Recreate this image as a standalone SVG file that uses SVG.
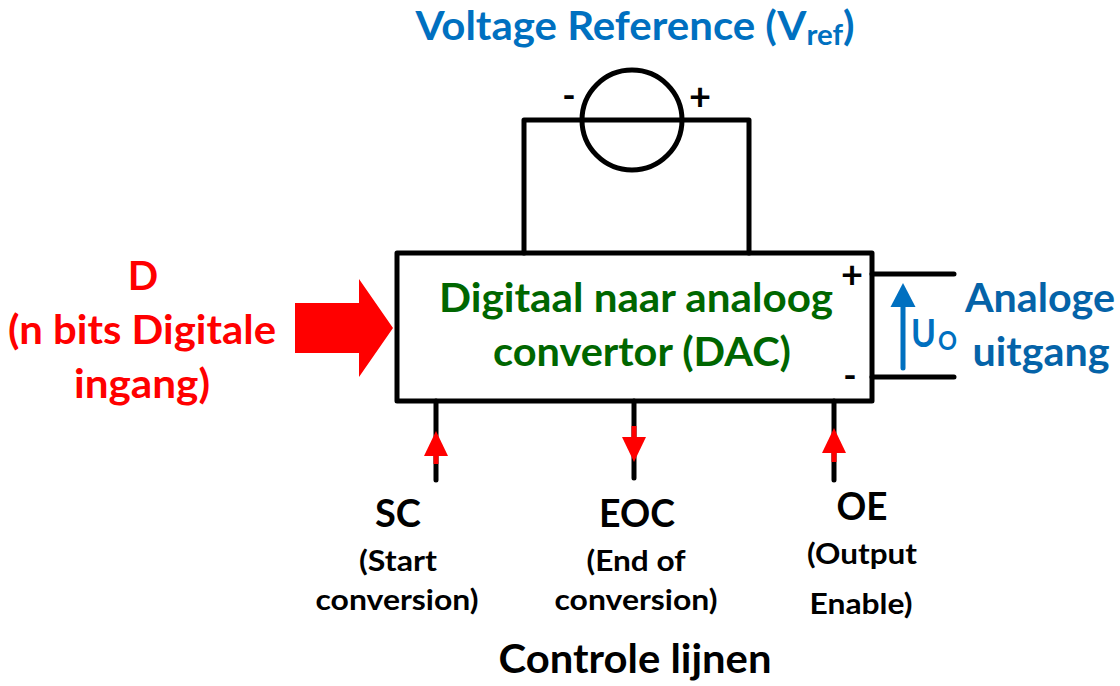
<svg xmlns="http://www.w3.org/2000/svg" width="1120" height="686" viewBox="0 0 1120 686">
<style>
text{font-family:"Lato","Open Sans","Liberation Sans",sans-serif;font-weight:700;text-anchor:middle;fill:#000}
.w{fill:none;stroke:#000;stroke-width:5;stroke-linecap:round;stroke-linejoin:round}
.r{fill:#f00}
.rl{stroke:#f00;stroke-width:5;fill:none}
.b{fill:#0070c0}
.t{font-size:40px;fill:#0070c0}
.d{font-size:40px;fill:#f00}
.g{font-size:40px;fill:#006600}
.a{font-size:40px;fill:#0563a8}
.h{font-size:39px}
.s{font-size:29px}
.u{font-weight:700;fill:#0070c0;text-anchor:start}
.p{font-size:38px}
.m{font-size:36px}
</style>
<rect width="1120" height="686" fill="#fff"/>
<g id="connectors">
<path class="w" d="M524 253V120H749V253"/>
<path class="w" d="M872 274H954M872 377H954"/>
<path class="w" d="M436 401V480M634 401V478M834 401V480"/>
<path class="rl" d="M436 445V464M634 426V445M834 442V462"/>
<polygon class="r" points="436,431 448,456 424,456"/>
<polygon class="r" points="634,462 622,437 646,437"/>
<polygon class="r" points="834,428 846,453 822,453"/>
<polygon class="r" points="295,303 359,303 359,279 393,328 359,377 359,353 295,353"/>
<path d="M903 368V300" fill="none" stroke="#0070c0" stroke-width="5" stroke-linecap="round"/>
<polygon class="b" points="903,283 915.500,307 890.500,307"/>
</g>
<g id="voltage-source">
<circle cx="632" cy="120" r="50" fill="none" stroke="#000" stroke-width="5"/>
<text class="m" x="569" y="108">-</text>
<text class="p" x="700" y="110">+</text>
</g>
<g id="vref-label"><text class="t" x="635" y="40" textLength="439" lengthAdjust="spacingAndGlyphs">Voltage Reference (V<tspan font-size="28" dy="5">ref</tspan><tspan dy="-5">)</tspan></text></g>
<g id="dac">
<rect x="397" y="253" width="475" height="148" fill="none" stroke="#000" stroke-width="5" stroke-linejoin="round"/>
<text class="g" x="636" y="312" textLength="394" lengthAdjust="spacingAndGlyphs">Digitaal naar analoog</text>
<text class="g" x="642" y="366" textLength="298" lengthAdjust="spacingAndGlyphs">convertor (DAC)</text>
<text class="p" x="852" y="288">+</text>
<text class="m" x="850" y="388">-</text>
</g>
<g id="digital-input">
<text class="d" x="143" y="290">D</text>
<text class="d" x="142" y="344" textLength="268" lengthAdjust="spacingAndGlyphs">(n bits Digitale</text>
<text class="d" x="142" y="398" textLength="136" lengthAdjust="spacingAndGlyphs">ingang)</text>
</g>
<g id="analog-output">
<text class="u" x="911" y="347" font-size="38" textLength="25" lengthAdjust="spacingAndGlyphs">U</text>
<text class="u" x="938" y="350" font-size="26" textLength="19" lengthAdjust="spacingAndGlyphs">O</text>
<text class="a" x="1040" y="312" textLength="150" lengthAdjust="spacingAndGlyphs">Analoge</text>
<text class="a" x="1041" y="366" textLength="137" lengthAdjust="spacingAndGlyphs">uitgang</text>
</g>
<g id="sc">
<text class="h" x="398" y="527" textLength="46" lengthAdjust="spacingAndGlyphs">SC</text>
<text class="s" x="398" y="571" textLength="78" lengthAdjust="spacingAndGlyphs">(Start</text>
<text class="s" x="397" y="610" textLength="163" lengthAdjust="spacingAndGlyphs">conversion)</text>
</g>
<g id="eoc">
<text class="h" x="637" y="527" textLength="76" lengthAdjust="spacingAndGlyphs">EOC</text>
<text class="s" x="636" y="571" textLength="99" lengthAdjust="spacingAndGlyphs">(End of</text>
<text class="s" x="636" y="610" textLength="163" lengthAdjust="spacingAndGlyphs">conversion)</text>
</g>
<g id="oe">
<text class="h" x="862" y="520" textLength="51" lengthAdjust="spacingAndGlyphs">OE</text>
<text class="s" x="862" y="564" textLength="110" lengthAdjust="spacingAndGlyphs">(Output</text>
<text class="s" x="861" y="614" textLength="103" lengthAdjust="spacingAndGlyphs">Enable)</text>
</g>
<g id="control-lines"><text x="635" y="673" textLength="273" lengthAdjust="spacingAndGlyphs" style="font-size:40px">Controle lijnen</text></g>
</svg>
